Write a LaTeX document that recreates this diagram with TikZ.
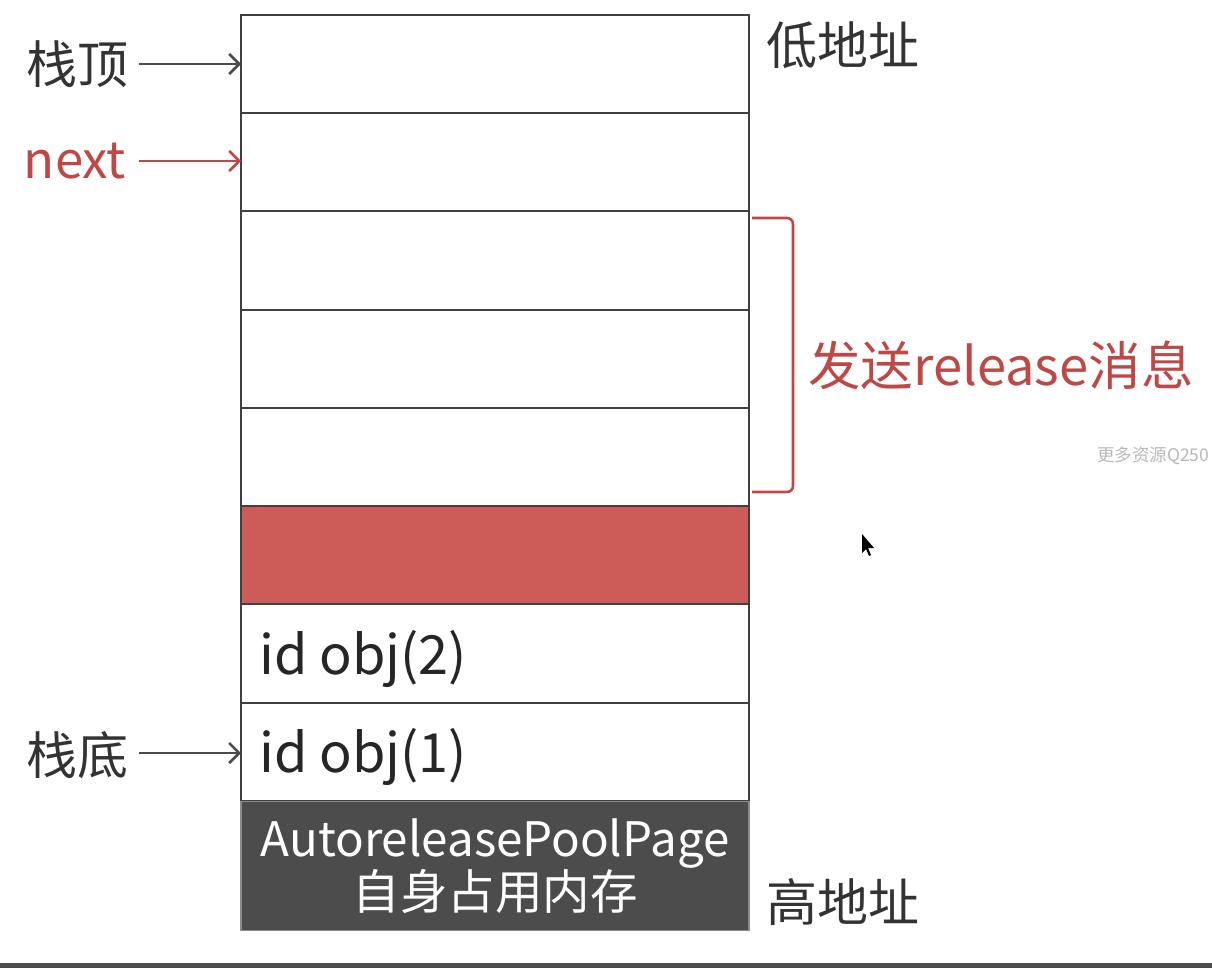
\documentclass[tikz,border=0pt]{standalone}
\usepackage{fontspec}
\setmainfont{Noto Sans CJK SC}
\usetikzlibrary{arrows.meta}
\definecolor{poolred}{RGB}{205,91,87}
\definecolor{labelred}{RGB}{190,72,70}
\definecolor{pagegray}{RGB}{76,76,76}
\definecolor{arrowgray}{RGB}{75,75,75}
\tikzset{
  cell/.style={draw=black!75, line width=1.6pt, fill=white, minimum width=508pt,
    minimum height=98pt, inner sep=0pt, outer sep=0pt},
  sidetext/.style={inner sep=0pt, font=\fontsize{51}{60}\selectfont},
  celltext/.style={anchor=west, inner sep=0pt, font=\fontsize{54}{60}\selectfont, text=black!85},
  pointer/.style={-{Straight Barb[length=10pt, width=20pt, line width=2.6pt]}, line width=2.2pt}
}
\begin{document}
\begin{tikzpicture}[x=1pt, y=-1pt]
\useasboundingbox (0,0) rectangle (1212,968);
\fill[white] (0,0) rectangle (1212,968);
% stack cells, top to bottom
\node[cell] (c1) at (495,64) {};
\node[cell] (c2) at (495,162) {};
\node[cell] (c3) at (495,260.5) {};
\node[cell] (c4) at (495,359) {};
\node[cell] (c5) at (495,457) {};
\node[cell, fill=poolred] (c6) at (495,555) {};
\node[cell] (c7) at (495,653.5) {};
\node[cell] (c8) at (495,752) {};
\node[cell, draw=black!45, fill=pagegray, minimum height=129pt, align=center, text=white,
  font=\fontsize{47.5}{53}\selectfont] (page) at (495,866) {AutoreleasePoolPage\\自身占用内存};
\node[celltext] (obj2) at (259,659) {id obj(2)};
\node[celltext] (obj1) at (259,757) {id obj(1)};
% labels on the left
\node[sidetext, text=black!80] (top) at (77,64) {栈顶};
\node[sidetext, text=labelred] (next) at (75,161) {next};
\node[sidetext, text=black!80] (bottom) at (77,755) {栈底};
\draw[pointer, arrowgray] (139,64) -- (c1.west);
\draw[pointer, labelred] (139,161) -- (c2.west |- next);
\draw[pointer, arrowgray] (139,753) -- (c8.west |- 0,753);
% labels on the right
\node[sidetext, anchor=west, text=black!80] (low) at (766,45) {低地址};
\node[sidetext, anchor=west, text=black!80] (high) at (766,902) {高地址};
\draw[labelred, line width=2.6pt, rounded corners=6pt] (752,218) -- (793,218) -- (793,492) -- (752,492);
\node[anchor=west, inner sep=0pt, text=labelred, font=\fontsize{52.5}{60}\selectfont] (release) at (808,365) {发送release消息};
\node[anchor=west, inner sep=0pt, text=black!28, font=\fontsize{17.5}{20}\selectfont] (mark) at (1097,456) {更多资源Q250};
% cursor and screen edge
\fill[black] (862,534) -- (862,553) -- (866,549) -- (869,556) -- (871,555) -- (868,548) -- (874,548) -- cycle;
\fill[black!70] (0,963) rectangle (1212,968);
\end{tikzpicture}
\end{document}
